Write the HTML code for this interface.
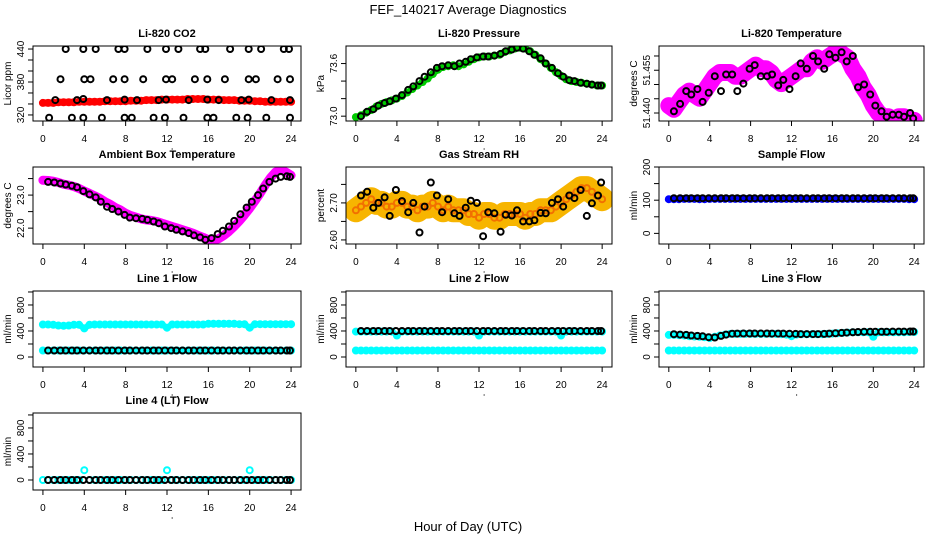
<!DOCTYPE html>
<html><head><meta charset="utf-8"><style>
html,body{margin:0;padding:0;background:#fff;}
svg{display:block;font-family:"Liberation Sans",sans-serif;}
</style></head><body>
<svg id="chart" width="936" height="540" viewBox="0 0 936 540">
<text x="468" y="14" font-size="13" text-anchor="middle">FEF_140217  Average Diagnostics</text>
<text x="468" y="531" font-size="13" text-anchor="middle">Hour of Day (UTC)</text>
</svg>
<script>
// ---- shared x data ----
const halfHours = [0,0.5,1,1.5,2,2.5,3,3.5,4,4.5,5,5.5,6,6.5,7,7.5,8,8.5,9,9.5,10,10.5,11,11.5,12,12.5,13,13.5,14,14.5,15,15.5,16,16.5,17,17.5,18,18.5,19,19.5,20,20.5,21,21.5,22,22.5,23,23.5,24];
const blackHours = [0.5,1.1,1.7,2.2,2.8,3.3,3.9,4.5,5.1,5.6,6.2,6.7,7.3,7.9,8.4,9.0,9.6,10.1,10.7,11.2,11.8,12.4,12.9,13.5,14.1,14.6,15.2,15.7,16.3,16.9,17.4,18.0,18.5,19.1,19.7,20.2,20.8,21.3,21.9,22.5,23.0,23.6,23.9];
const xTicks = [0,4,8,12,16,20,24];

// ---- CO2 ----
const co2Red = [342,342,342,343,343,343,343,344,344,344,344,344,345,345,345,345,345,346,346,346,347,347,347,348,348,348,348,348,349,349,349,349,348,348,348,347,347,347,346,346,346,345,345,344,344,344,344,344,344];
const co2BlackHours = [2.2,3.9,5.1,7.3,7.9,10.1,11.9,13.1,15.2,15.7,18.1,19.9,21.1,23.3,23.8, 1.7,4.0,4.6,6.8,7.9,9.7,11.9,12.5,14.7,15.9,17.6,19.9,20.6,22.7,23.9, 1.2,3.3,3.9,6.2,7.9,9.1,11.2,11.9,14.1,15.9,17.0,19.2,19.9,22.1,23.9, 0.6,2.8,3.9,5.7,7.9,8.6,10.7,11.8,13.6,15.9,16.5,18.7,19.8,21.6,23.9];
const co2Black = [440,440,440,440,440,440,440,440,440,440,440,440,440,440,440, 385,385,385,385,385,385,385,385,385,385,385,385,385,385,385, 347,347,349,347,348,347,347,348,347,348,347,347,348,347,347, 315,315,315,315,315,315,315,315,315,315,315,315,315,315,315];

// ---- Pressure ----
const pressGreen = [72.99,73.01,73.04,73.07,73.11,73.14,73.16,73.18,73.20,73.23,73.27,73.31,73.35,73.39,73.43,73.48,73.53,73.56,73.57,73.58,73.57,73.59,73.62,73.65,73.67,73.68,73.68,73.69,73.70,73.73,73.75,73.77,73.78,73.77,73.74,73.70,73.65,73.60,73.55,73.50,73.46,73.42,73.40,73.39,73.38,73.37,73.36,73.35,73.35];
const pressBlack = [73.00,73.05,73.08,73.12,73.15,73.17,73.20,73.24,73.30,73.34,73.40,73.45,73.50,73.55,73.57,73.58,73.57,73.60,73.62,73.65,73.67,73.68,73.68,73.69,73.71,73.74,73.76,73.78,73.77,73.74,73.70,73.66,73.60,73.55,73.49,73.45,73.41,73.40,73.38,73.37,73.36,73.35,73.35];

// ---- Li-820 Temperature ----
const tempMagenta = [51.4426,51.4413,51.4439,51.4464,51.4477,51.4464,51.4452,51.4477,51.4503,51.4529,51.4542,51.4542,51.4542,51.4529,51.4529,51.4542,51.4555,51.4568,51.4555,51.4555,51.4542,51.4516,51.4503,51.4516,51.4529,51.4542,51.4555,51.4555,51.4581,51.4594,51.4581,51.4594,51.4606,51.4619,51.4606,51.4594,51.4555,51.4529,51.4490,51.4464,51.4426,51.4400,51.4387,51.4387,51.4374,51.4387,51.4387,51.4374,51.4374];
const tempBlack = [51.4406,51.4432,51.4477,51.4465,51.4484,51.4439,51.4471,51.4529,51.4477,51.4535,51.4535,51.4477,51.4503,51.4555,51.4568,51.4529,51.4529,51.4535,51.4497,51.4516,51.4484,51.4529,51.4574,51.4555,51.4600,51.4581,51.4555,51.4606,51.4594,51.4613,51.4581,51.4600,51.4490,51.4500,51.4465,51.4426,51.4406,51.4387,51.4394,51.4394,51.4387,51.4400,51.4381];

// ---- Ambient box temperature ----
const ambMagenta = [23.45,23.44,23.42,23.38,23.33,23.3,23.26,23.2,23.12,23.05,22.98,22.9,22.8,22.72,22.62,22.55,22.45,22.38,22.33,22.28,22.25,22.23,22.2,22.15,22.1,22.05,22.0,21.95,21.9,21.85,21.78,21.72,21.65,21.63,21.68,21.78,21.9,22.05,22.22,22.4,22.6,22.82,23.05,23.3,23.52,23.7,23.75,23.7,23.6];
const ambBlack = [23.4,23.38,23.35,23.32,23.28,23.24,23.12,23.02,22.93,22.8,22.65,22.58,22.5,22.4,22.32,22.3,22.28,22.25,22.2,22.15,22.05,22.0,21.95,21.9,21.85,21.78,21.72,21.65,21.7,21.82,21.92,22.05,22.22,22.42,22.62,22.8,23.0,23.2,23.4,23.5,23.55,23.57,23.55];

// ---- Gas stream RH ----
const rhOrange = [2.68,2.69,2.70,2.71,2.70,2.70,2.69,2.69,2.70,2.70,2.69,2.69,2.68,2.69,2.69,2.70,2.69,2.68,2.69,2.68,2.68,2.68,2.67,2.67,2.66,2.67,2.67,2.66,2.66,2.67,2.67,2.67,2.67,2.66,2.67,2.67,2.68,2.68,2.68,2.69,2.70,2.71,2.72,2.73,2.74,2.74,2.73,2.72,2.71];
const rhBlack = [2.72,2.73,2.687,2.70,2.715,2.665,2.735,2.705,2.675,2.70,2.62,2.69,2.755,2.72,2.675,2.71,2.672,2.665,2.687,2.706,2.70,2.61,2.675,2.672,2.622,2.668,2.666,2.68,2.65,2.65,2.653,2.673,2.672,2.70,2.71,2.69,2.72,2.713,2.735,2.665,2.699,2.72,2.755];

// ---- Sample flow ----
const sampleBlue = [103,103,103,104,104,104,103,103,104,104,104,104,104,104,104,104,104,104,104,104,104,104,104,104,104,104,104,104,104,104,104,104,104,104,104,104,104,104,104,104,104,104,104,104,104,104,104,103,103];
const sampleBlack = [106,106,106,106,106,106,106,106,106,106,106,106,106,106,106,106,106,106,106,106,106,106,106,106,106,106,106,106,106,106,106,106,106,106,106,106,106,106,106,106,106,106,106];

// ---- Line flows ----
const line1CyanHigh = [500,500,495,485,480,485,495,495,440,495,500,500,500,500,500,500,500,500,500,500,500,500,500,500,450,500,500,500,500,500,500,500,510,510,510,510,510,510,505,505,450,505,505,505,505,505,505,505,505];
const line1CyanLow = [100,100,100,100,100,100,100,100,100,100,100,100,100,100,100,100,100,100,100,100,100,100,100,100,100,100,100,100,100,100,100,100,100,100,100,100,100,100,100,100,100,100,100,100,100,100,100,100,100];
const line1Black = [100,100,100,100,100,100,100,100,100,100,100,100,100,100,100,100,100,100,100,100,100,100,100,100,100,100,100,100,100,100,100,100,100,100,100,100,100,100,100,100,100,100,100];
const line2CyanHigh = [390,390,390,390,390,390,390,390,330,390,390,390,390,390,390,390,390,390,390,390,390,390,390,390,330,390,390,390,390,390,390,390,390,390,390,390,390,390,390,390,330,390,390,390,390,390,390,390,390];
const line2CyanLow = [100,100,100,100,100,100,100,100,100,100,100,100,100,100,100,100,100,100,100,100,100,100,100,100,100,100,100,100,100,100,100,100,100,100,100,100,100,100,100,100,100,100,100,100,100,100,100,100,100];
const line2Black = [400,400,400,400,400,400,400,400,400,400,400,400,400,400,400,400,400,400,400,400,400,400,400,400,400,400,400,400,400,400,400,400,400,400,400,400,400,400,400,400,400,400,400];
const line3CyanHigh = [340,340,335,330,320,315,310,305,290,310,330,345,355,355,355,355,355,355,355,355,355,355,350,345,320,345,350,350,350,350,350,355,360,365,370,375,380,380,380,380,310,380,380,380,380,380,380,385,385];
const line3CyanLow = [100,100,100,100,100,100,100,100,100,100,100,100,100,100,100,100,100,100,100,100,100,100,100,100,100,100,100,100,100,100,100,100,100,100,100,100,100,100,100,100,100,100,100,100,100,100,100,100,100];
const line3Black = [350,345,340,330,325,318,305,300,325,345,358,360,362,362,362,362,362,360,360,360,358,355,352,352,352,352,355,360,365,370,375,380,385,388,388,388,388,388,390,390,390,392,392];
const line4Cyan = [0,0,0,0,0,0,0,0,150,0,0,0,0,0,0,0,0,0,0,0,0,0,0,0,150,0,0,0,0,0,0,0,0,0,0,0,0,0,0,0,150,0,0,0,0,0,0,0,0];
const line4Black = [0,0,0,0,0,0,0,0,0,0,0,0,0,0,0,0,0,0,0,0,0,0,0,0,0,0,0,0,0,0,0,0,0,0,0,0,0,0,0,0,0,0,0];

const flowTicks = [0,200,400,600,800,1000];
const flowLabels = ["0","","400","","800",""];

const svg = document.getElementById('chart');
const NS = 'http://www.w3.org/2000/svg';
function mk(tag, attrs, parent){
  const e = document.createElementNS(NS, tag);
  for (const k in attrs) e.setAttribute(k, attrs[k]);
  parent.appendChild(e); return e;
}
const cols = [[33,301],[346,612],[659,924]];
const rows = [[46,121],[167,244],[291,367],[413,490]];
const XMIN = -0.96, XMAX = 24.96;

function panel(cfg){
  const [L,R] = cols[cfg.col], [T,B] = rows[cfg.row];
  const g = mk('g', {}, svg);
  
  
  const xs = v => L + (v - XMIN) / (XMAX - XMIN) * (R - L);
  const ys = v => B - (v - cfg.ylim[0]) / (cfg.ylim[1] - cfg.ylim[0]) * (B - T);
  const t = mk('text', {x:(L+R)/2, y:T-9, 'font-size':11, 'font-weight':'bold', 'text-anchor':'middle'}, g);
  
  
  t.textContent = cfg.title;
  const yl = mk('text', {x:0, y:0, 'font-size':10, 'text-anchor':'middle', transform:`translate(${L-22},${(T+B)/2}) rotate(-90)`}, g);
  
  
  yl.textContent = cfg.ylab;
  const xa = mk('g', {}, g);
  
  
  mk('line', {x1:xs(0), x2:xs(24), y1:B, y2:B, stroke:'#000'}, xa);
  xTicks.forEach(v => {
    mk('line', {x1:xs(v), x2:xs(v), y1:B, y2:B+5, stroke:'#000'}, xa);
    const lt = mk('text', {x:xs(v), y:B+21, 'font-size':10, 'text-anchor':'middle'}, xa);
    
    
    lt.textContent = v;
  });
  mk('circle', {cx:xs(12.5), cy:B+28, r:0.6, fill:'#000'}, xa);
  const ya = mk('g', {}, g);
  
  
  const tk = cfg.yticks;
  mk('line', {x1:L, x2:L, y1:ys(tk[0]), y2:ys(tk[tk.length-1]), stroke:'#000'}, ya);
  tk.forEach((v,i) => {
    mk('line', {x1:L-5, x2:L, y1:ys(v), y2:ys(v), stroke:'#000'}, ya);
    if (cfg.ylabels[i]) {
      const lt = mk('text', {x:0, y:0, 'font-size':10, 'text-anchor':'middle', transform:`translate(${L-9},${ys(v)}) rotate(-90)`}, ya);
      
      
      lt.textContent = cfg.ylabels[i];
    }
  });
  const cid = 'c' + cfg.row + cfg.col;
  const cp = mk('clipPath', {id:cid}, svg);
  mk('rect', {x:L, y:T, width:R-L, height:B-T}, cp);
  const pg = mk('g', {'clip-path':`url(#${cid})`}, g);
  cfg.series.forEach(s => {
    const sg = mk('g', {}, pg);
    
    
    if (s.band) {
      const pts = s.x.map((x,i) => xs(x).toFixed(1) + ',' + ys(s.y[i]).toFixed(1)).join(' ');
      mk('polyline', {points:pts, fill:'none', stroke:s.color, 'stroke-width':s.band, 'stroke-linejoin':'round', 'stroke-linecap':'round', opacity:s.op||1}, sg);
    }
    s.x.forEach((x,i) => {
      mk('circle', {cx:xs(x).toFixed(1), cy:ys(s.y[i]).toFixed(1), r:s.r||3, fill:'none', stroke:s.stroke||s.color, 'stroke-width':s.sw||2}, sg);
    });
  });
  mk('rect', {x:L, y:T, width:R-L, height:B-T, fill:'none', stroke:'#000'}, g);
}

const blk = (y, name) => ({name, x:blackHours, y, color:'#000', r:3, sw:2});

panel({name:'co2-panel', col:0,row:0,title:'Li-820 CO2', ylab:'Licor ppm', ylim:[309,445.5], yticks:[320,340,360,380,400,420,440], ylabels:['320','','','380','','','440'],
  series:[{name:'co2-red-series', x:halfHours, y:co2Red, color:'#f00', band:7, r:3}, {name:'co2-black-series', x:co2BlackHours, y:co2Black, color:'#000', r:3}]});
panel({name:'pressure-panel', col:1,row:0,title:'Li-820 Pressure', ylab:'kPa', ylim:[72.945,73.8], yticks:[73.0,73.2,73.4,73.6], ylabels:['73.0','','','73.6'],
  series:[{name:'pressure-green-series', x:halfHours, y:pressGreen, color:'#0c0', band:6}, blk(pressBlack,'pressure-black-series')]});
panel({name:'li820-temperature-panel', col:2,row:0,title:'Li-820 Temperature', ylab:'degrees C', ylim:[51.4372,51.4635], yticks:[51.440,51.445,51.450,51.455,51.460], ylabels:['51.440','','','51.455',''],
  series:[{name:'temperature-magenta-series', x:halfHours, y:tempMagenta, color:'#f0f', band:17}, blk(tempBlack,'temperature-black-series')]});
panel({name:'ambient-temperature-panel', col:0,row:1,title:'Ambient Box Temperature', ylab:'degrees C', ylim:[21.52,23.85], yticks:[22.0,22.5,23.0,23.5], ylabels:['22.0','','23.0',''],
  series:[{name:'ambient-magenta-series', x:halfHours, y:ambMagenta, color:'#f0f', band:9}, blk(ambBlack,'ambient-black-series')]});
panel({name:'rh-panel', col:1,row:1,title:'Gas Stream RH', ylab:'percent', ylim:[2.589,2.797], yticks:[2.60,2.65,2.70,2.75], ylabels:['2.60','','2.70',''],
  series:[{name:'rh-orange-series', x:halfHours, y:rhOrange, color:'#f7b500', band:24, stroke:'#f27000', r:3}, blk(rhBlack,'rh-black-series')]});
panel({name:'sample-flow-panel', col:2,row:1,title:'Sample Flow', ylab:'ml/min', ylim:[-32,200], yticks:[0,50,100,150,200], ylabels:['0','','100','','200'],
  series:[{name:'sample-blue-series', x:halfHours, y:sampleBlue, color:'#00f', band:5}, blk(sampleBlack,'sample-black-series')]});
panel({name:'line1-flow-panel', col:0,row:2,title:'Line 1 Flow', ylab:'ml/min', ylim:[-154,1015], yticks:flowTicks, ylabels:flowLabels,
  series:[{name:'line1-cyan-high', x:halfHours, y:line1CyanHigh, color:'#0ff', band:6}, {name:'line1-cyan-low', x:halfHours, y:line1CyanLow, color:'#0ff', band:5}, blk(line1Black,'line1-black-series')]});
panel({name:'line2-flow-panel', col:1,row:2,title:'Line 2 Flow', ylab:'ml/min', ylim:[-154,1015], yticks:flowTicks, ylabels:flowLabels,
  series:[{name:'line2-cyan-high', x:halfHours, y:line2CyanHigh, color:'#0ff', band:5}, {name:'line2-cyan-low', x:halfHours, y:line2CyanLow, color:'#0ff', band:6}, blk(line2Black,'line2-black-series')]});
panel({name:'line3-flow-panel', col:2,row:2,title:'Line 3 Flow', ylab:'ml/min', ylim:[-154,1015], yticks:flowTicks, ylabels:flowLabels,
  series:[{name:'line3-cyan-high', x:halfHours, y:line3CyanHigh, color:'#0ff', band:5}, {name:'line3-cyan-low', x:halfHours, y:line3CyanLow, color:'#0ff', band:6}, blk(line3Black,'line3-black-series')]});
panel({name:'line4-flow-panel', col:0,row:3,title:'Line 4 (LT) Flow', ylab:'ml/min', ylim:[-154,1030], yticks:flowTicks, ylabels:flowLabels,
  series:[{name:'line4-cyan-series', x:halfHours, y:line4Cyan, color:'#0ff'}, blk(line4Black,'line4-black-series')]});
</script>
</body></html>
